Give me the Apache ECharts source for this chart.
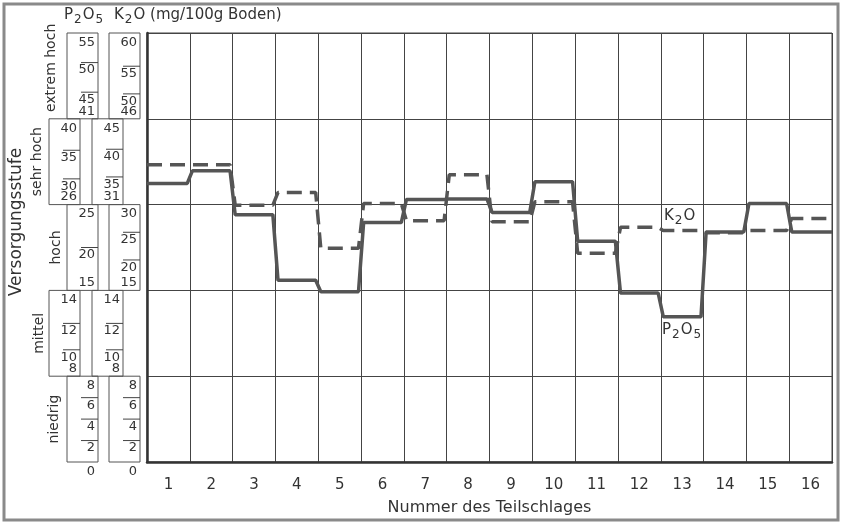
<!DOCTYPE html>
<html>
<head>
<meta charset="utf-8">
<script src="https://cdn.jsdelivr.net/npm/echarts@6/dist/echarts.min.js"></script>
<style>
  html, body { margin: 0; padding: 0; background: #fff; }
  #chart { width: 842px; height: 525px; }
</style>
</head>
<body>
<div id="chart"></div>
<script>
const FONT = 'DejaVu Sans'

// Teilschläge 1..16
const plots = ['1', '2', '3', '4', '5', '6', '7', '8', '9', '10', '11', '12', '13', '14', '15', '16']
// Gehalte in mg/100g Boden
const p2o5 = [29.2, 31.4, 24.2, 15.8, 14.4, 23.2, 26.4, 26.5, 24.5, 29.5, 20.8, 14.3, 12.5, 22.0, 25.7, 22.0]
const k2o = [37.2, 37.2, 29.9, 32.2, 22.1, 30.2, 27.1, 35.4, 26.9, 30.5, 21.2, 25.9, 25.3, 24.9, 25.3, 27.5]

const stufen = ['niedrig', 'mittel', 'hoch', 'sehr hoch', 'extrem hoch']
// Grenzen der Versorgungsstufen (mg/100g)
const pBreaks = [0, 8, 14.5, 25.5, 40.5, 55]
const kBreaks = [0, 8, 14.5, 30, 45.5, 61]
// Skalenbeschriftung je Stufe
const pTicks = [[0, 2, 4, 6, 8], [8, 10, 12, 14], [15, 20, 25], [26, 30, 35, 40], [41, 45, 50, 55]]
const kTicks = [[0, 2, 4, 6, 8], [8, 10, 12, 14], [15, 20, 25, 30], [31, 35, 40, 45], [46, 50, 55, 60]]

// mg-Wert -> Position auf der Stufenachse (0..5)
function toStufe(v, br) {
  for (let i = 0; i < 5; i++) {
    if (v <= br[i + 1] || i === 4) return i + (v - br[i]) / (br[i + 1] - br[i])
  }
}

function stepData(vals, br) {
  const d = []
  vals.forEach((v, i) => {
    const s = toStufe(v, br)
    d.push([i === 0 ? 0 : i + 0.06, s])
    d.push([i === vals.length - 1 ? vals.length : i + 0.94, s])
  })
  return d
}

const chart = echarts.init(document.getElementById('chart'))
chart.setOption({
  animation: false,
  backgroundColor: '#fff',
  textStyle: { fontFamily: FONT },
  grid: { left: 147, right: 10, top: 33, bottom: 63, show: true, borderColor: '#444', borderWidth: 1 },
  xAxis: [
    {
      type: 'category',
      data: plots,
      boundaryGap: true,
      axisLine: { lineStyle: { color: '#333', width: 2.5 } },
      axisTick: { length: 10, interval: 0, lineStyle: { color: '#333', width: 1.5 } },
      axisLabel: { interval: 0, fontSize: 15, color: '#333', margin: 16, fontFamily: FONT },
      splitLine: { show: true, interval: 0, lineStyle: { color: '#444', width: 1 } },
      name: 'Nummer des Teilschlages',
      nameLocation: 'middle',
      nameGap: 38,
      nameTextStyle: { fontSize: 16, color: '#333', fontFamily: FONT }
    },
    { type: 'value', min: 0, max: 16, show: false }
  ],
  yAxis: {
    type: 'value',
    min: 0,
    max: 5,
    interval: 1,
    axisLabel: { show: false },
    axisTick: { show: false },
    axisLine: { show: true, lineStyle: { color: '#333', width: 2.5 } },
    splitLine: { show: true, lineStyle: { color: '#444', width: 1 } }
  },
  series: [
    {
      name: 'K2O',
      type: 'line',
      xAxisIndex: 1,
      data: stepData(k2o, kBreaks),
      symbol: 'none',
      lineStyle: { color: '#555', width: 3.5, type: [15, 8] }
    },
    {
      name: 'P2O5',
      type: 'line',
      xAxisIndex: 1,
      data: stepData(p2o5, pBreaks),
      symbol: 'none',
      lineStyle: { color: '#555', width: 3.5 }
    }
  ]
})

// linke Skalen der Versorgungsstufen
const yPix = s => chart.convertToPixel({ yAxisIndex: 0 }, s)
const boxX = [[67, 109], [49, 92], [67, 109], [49, 92], [67, 109]]
const boxW = 31
const stufeX = [54, 39, 56, 37, 51]
const g = []

const chem = (x, y, text) => ({
  type: 'text', silent: true, x: x, y: y,
  style: {
    text: text, align: 'left', verticalAlign: 'middle', fontSize: 15, fill: '#333', fontFamily: FONT,
    rich: { s: { fontSize: 12, fill: '#333', fontFamily: FONT, padding: [9, 1, 0, 1] } }
  }
})

g.push({ type: 'rect', silent: true, shape: { x: 4, y: 4, width: 834, height: 516 },
  style: { fill: 'none', stroke: '#8a8a8a', lineWidth: 3 } })

for (let b = 0; b < 5; b++) {
  const top = yPix(b + 1)
  const bottom = yPix(b)
  const scales = [[pTicks[b], pBreaks, boxX[b][0]], [kTicks[b], kBreaks, boxX[b][1]]]
  scales.forEach(([ticks, br, x0]) => {
    const x1 = x0 + boxW
    g.push({ type: 'rect', silent: true, shape: { x: x0, y: top, width: boxW, height: bottom - top },
      style: { fill: 'none', stroke: '#555', lineWidth: 1 } })
    ticks.forEach((v, j) => {
      let y, va
      if (j === 0) {
        y = b === 0 ? bottom + 3 : bottom - 1
        va = b === 0 ? 'top' : 'bottom'
      } else if (j === ticks.length - 1) {
        y = top + 3
        va = 'top'
      } else {
        y = yPix(toStufe(v, br))
        g.push({ type: 'line', silent: true, shape: { x1: x1 - 17, y1: y, x2: x1, y2: y },
          style: { stroke: '#444', lineWidth: 1 } })
        y += 1
        va = 'top'
      }
      g.push({ type: 'text', silent: true, x: x1 - 3, y: y,
        style: { text: String(v), align: 'right', verticalAlign: va, fontSize: 13, fill: '#333', fontFamily: FONT } })
    })
  })
  g.push({ type: 'text', silent: true, x: stufeX[b], y: (top + bottom) / 2 - (b === 4 ? 8 : 0), rotation: Math.PI / 2,
    style: { text: stufen[b], align: 'center', verticalAlign: 'middle', fontSize: 14, fill: '#333', fontFamily: FONT } })
}

g.push({ type: 'text', silent: true, x: 17, y: 222, rotation: Math.PI / 2,
  style: { text: 'Versorgungsstufe', align: 'center', verticalAlign: 'middle', fontSize: 17, fill: '#333', fontFamily: FONT } })
g.push(chem(64, 15, 'P{s|2}O{s|5}'))
g.push(chem(114, 15, 'K{s|2}O (mg/100g Boden)'))
g.push(chem(664, 216, 'K{s|2}O'))
g.push(chem(662, 330, 'P{s|2}O{s|5}'))

chart.setOption({ graphic: g })
</script>
</body>
</html>
